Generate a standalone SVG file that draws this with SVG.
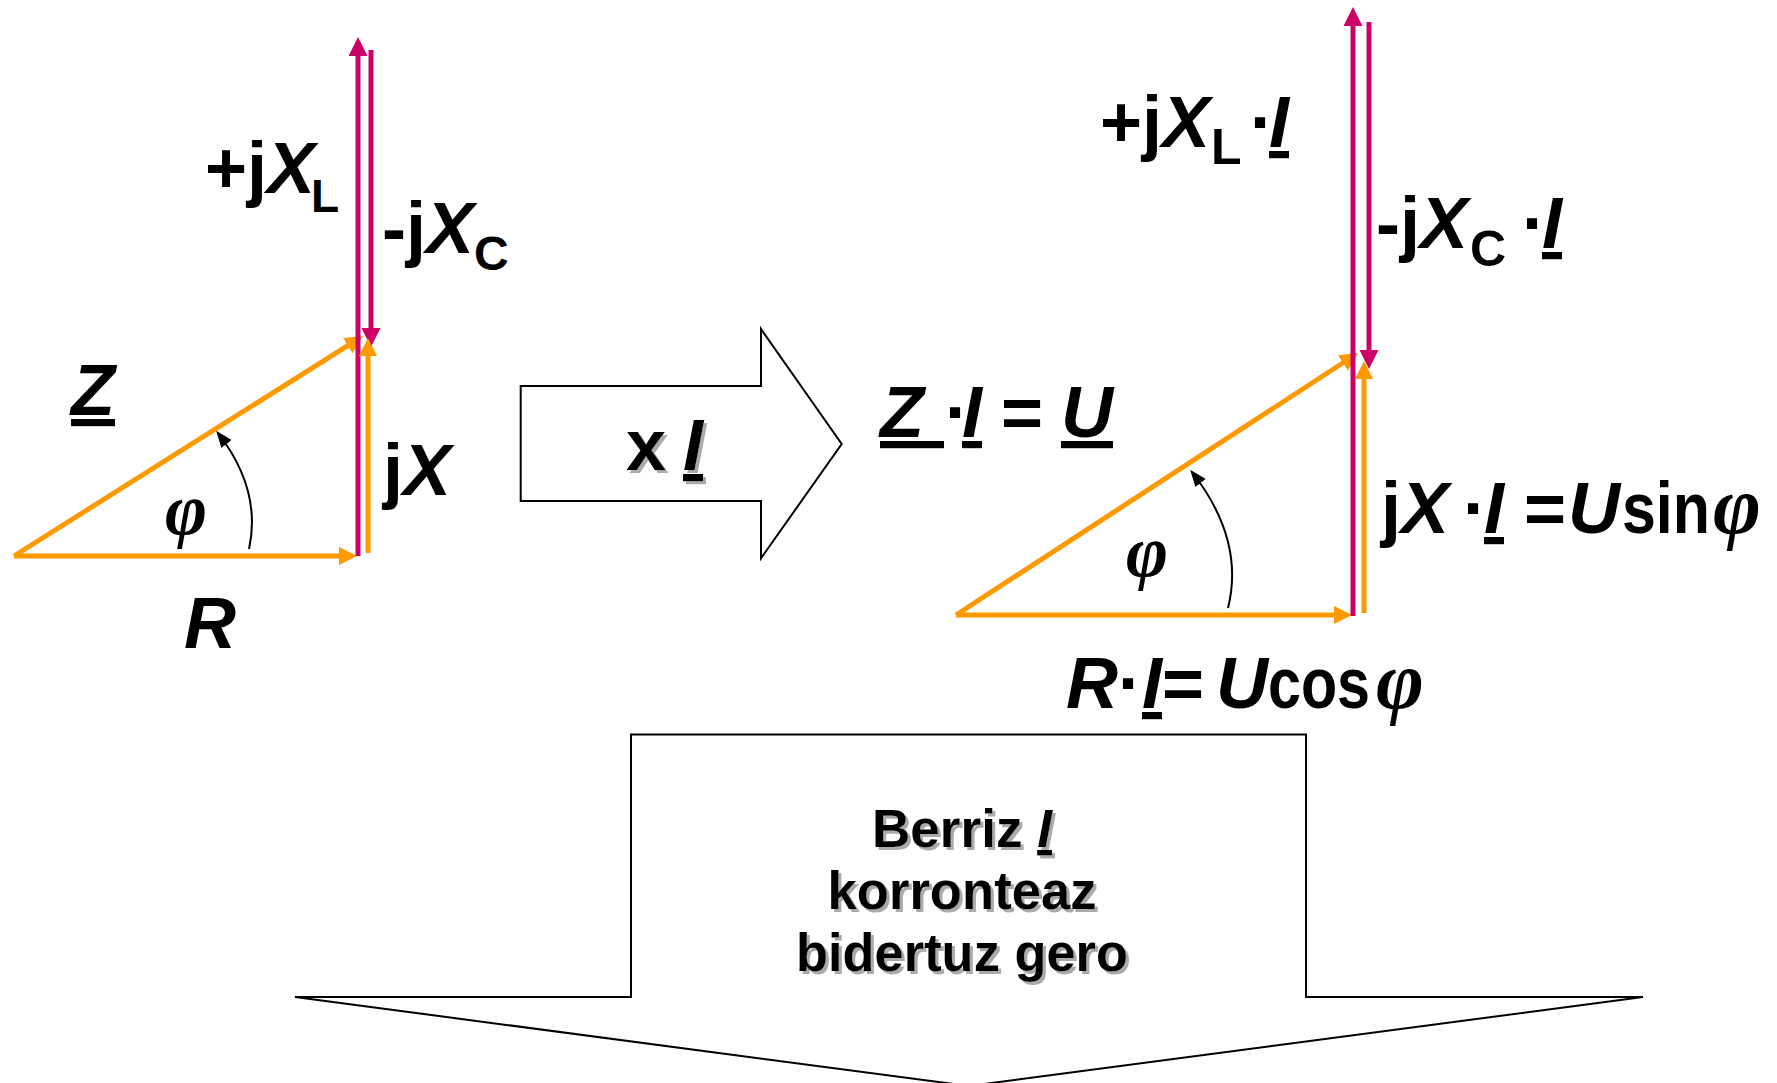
<svg xmlns="http://www.w3.org/2000/svg" width="1777" height="1083" viewBox="0 0 1777 1083">
<defs>
<style>
text { font-family: "Liberation Sans", Arial, sans-serif; font-weight: bold; fill: #000; font-size: 72px; }
.it { font-style: italic; }
.u { text-decoration: underline; }
.phi { font-family: "Liberation Serif", "DejaVu Serif", serif; font-style: italic; font-weight: bold; }
.or { stroke: #FF9900; stroke-width: 5; fill: none; }
.mg { stroke: #CC0066; stroke-width: 5; fill: none; }
.arc { stroke: #000; stroke-width: 2; fill: none; }
.shape { fill: #fff; stroke: #000; stroke-width: 2; stroke-linejoin: miter; }
.bt { font-size: 54px; }
</style>
<marker id="ao" markerUnits="userSpaceOnUse" markerWidth="20" markerHeight="20" refX="8" refY="9" orient="auto"><path d="M0,0 L18,9 L0,18 z" fill="#FF9900"/></marker>
<marker id="am" markerUnits="userSpaceOnUse" markerWidth="20" markerHeight="20" refX="8" refY="9.5" orient="auto"><path d="M0,0 L19,9.5 L0,19 z" fill="#CC0066"/></marker>
<marker id="ak" markerUnits="userSpaceOnUse" markerWidth="18" markerHeight="14" refX="14" refY="6.5" orient="auto"><path d="M0,0 L17,6.5 L0,13 z" fill="#000"/></marker>
<filter id="sh" x="-10%" y="-10%" width="130%" height="140%"><feDropShadow dx="3" dy="3" stdDeviation="0.3" flood-color="#aaaaaa" flood-opacity="1"/></filter>
</defs>
<rect width="1777" height="1083" fill="#fff"/>

<g id="arrow-xI">
<polygon class="shape" points="520.7,386 761,386 761,329 841.7,444 761,558.3 761,501 520.7,501"/>
<text x="626" y="470" filter="url(#sh)">x<tspan class="it u" x="683">I</tspan></text>
</g>

<g id="arrow-down">
<polygon class="shape" points="631,734.5 1306,734.5 1306,997 1643,997 969,1086 295,997 631,997"/>
<g filter="url(#sh)">
<text class="bt" x="962" y="847" text-anchor="middle" textLength="180" lengthAdjust="spacingAndGlyphs">Berriz <tspan class="it u">I</tspan></text>
<text class="bt" x="962" y="909" text-anchor="middle" textLength="269" lengthAdjust="spacingAndGlyphs">korronteaz</text>
<text class="bt" x="962" y="971" text-anchor="middle" textLength="332" lengthAdjust="spacingAndGlyphs">bidertuz gero</text>
</g>
</g>

<g id="connectors">
<path class="or" d="M14,556 H347" marker-end="url(#ao)"/>
<path class="or" d="M14,556 L354.5,341.3" marker-end="url(#ao)"/>
<path class="mg" d="M358,556 V48" marker-end="url(#am)"/>
<path class="mg" d="M371,50 V336" marker-end="url(#am)"/>
<path class="or" d="M368,553 V348" marker-end="url(#ao)"/>
<path class="arc" d="M249,549 Q262,490 218,433" marker-end="url(#ak)"/>

<path class="or" d="M956,615 H1342" marker-end="url(#ao)"/>
<path class="or" d="M956,615 L1349.6,358.5" marker-end="url(#ao)"/>
<path class="mg" d="M1353,616 V18" marker-end="url(#am)"/>
<path class="mg" d="M1369,22 V358" marker-end="url(#am)"/>
<path class="or" d="M1364,613 V371" marker-end="url(#ao)"/>
<path class="arc" d="M1228,608 Q1245,540 1192,472" marker-end="url(#ak)"/>
</g>

<g id="label-Z"><text class="it u" x="71" y="415">Z</text></g>
<g id="label-jXL"><text x="205" y="193">+j<tspan class="it">X</tspan><tspan font-size="46" x="311" dy="19">L</tspan></text></g>
<g id="label-jXC"><text x="382" y="253">-j<tspan class="it">X</tspan><tspan font-size="48" dy="17">C</tspan></text></g>
<g id="label-jX"><text x="383" y="495">j<tspan class="it">X</tspan></text></g>
<g id="label-phi1"><text class="phi" x="186" y="534" font-size="82" text-anchor="middle">φ</text></g>
<g id="label-R"><text class="it" x="184" y="648">R</text></g>

<g id="label-ZIU"><text x="880" y="437"><tspan class="it u">Z&#160;</tspan><tspan x="945">·</tspan><tspan class="it u" x="962">I</tspan><tspan x="1001">=</tspan><tspan class="it u" x="1061">U</tspan></text></g>
<g id="label-jXLI"><text x="1100" y="147">+j<tspan class="it">X</tspan><tspan font-size="50" x="1211" dy="17">L</tspan><tspan x="1250" dy="-17">·</tspan><tspan class="it u" x="1269">I</tspan></text></g>
<g id="label-jXCI"><text x="1376" y="248">-j<tspan class="it">X</tspan><tspan font-size="50" x="1470" dy="18">C</tspan><tspan x="1522" dy="-18">·</tspan><tspan class="it u" x="1542">I</tspan></text></g>
<g id="label-phi2"><text class="phi" x="1147" y="576" font-size="82" text-anchor="middle">φ</text></g>
<g id="label-jXI"><text x="1381" y="533">j<tspan class="it">X</tspan><tspan x="1463">·</tspan><tspan class="it u" x="1484">I</tspan><tspan x="1524">=</tspan><tspan class="it" x="1568">U</tspan><tspan x="1622" textLength="88" lengthAdjust="spacingAndGlyphs">sin</tspan><tspan class="phi" font-size="82" x="1713">φ</tspan></text></g>
<g id="label-RI"><text x="1066" y="708" font-size="68"><tspan class="it">R</tspan>·<tspan class="it u">I</tspan>=<tspan class="it" x="1216">U</tspan><tspan x="1268" textLength="102" lengthAdjust="spacingAndGlyphs">cos</tspan><tspan class="phi" font-size="82" x="1376">φ</tspan></text></g>
</svg>
